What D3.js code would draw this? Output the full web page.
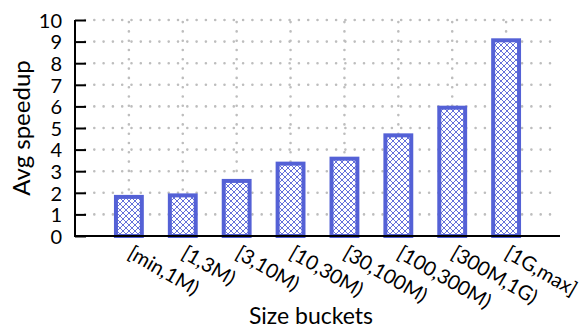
<!DOCTYPE html>
<html>
<head>
<meta charset="utf-8">
<script src="https://cdn.jsdelivr.net/npm/d3@7"></script>
<style>
  body { margin: 0; background: #fff; }
  text { font-family: Lato, "Open Sans", sans-serif; fill: #000; }
</style>
</head>
<body>
<div class="chart"></div>
<script>
(function () {

  // frame size
  var width = 585, height = 330;

  // data
  var buckets = ["[min,1M)", "[1,3M)", "[3,10M)", "[10,30M)", "[30,100M)", "[100,300M)", "[300M,1G)", "[1G,max]"];
  var speedups = [1.81, 1.88, 2.55, 3.35, 3.58, 4.66, 5.94, 9.06];
  var yTicks = [0, 1, 2, 3, 4, 5, 6, 7, 8, 9, 10];

  var barColor = "#5461d6";
  var gridColor = "#bdbdbd";

  var svg = d3.select(".chart")
    .append("svg")
    .attr("width", width)
    .attr("height", height);

  // crosshatch pattern for the bars
  var pat = svg.append("defs").append("pattern")
    .attr("id", "hatch")
    .attr("patternUnits", "userSpaceOnUse")
    .attr("width", 6)
    .attr("height", 6);
  pat.append("path")
    .attr("d", "M0,0L6,6M6,0L0,6")
    .attr("stroke", barColor)
    .attr("stroke-width", 0.9)
    .attr("fill", "none");

  // scales - bars sit at 1..8 like a gnuplot histogram
  var x = d3.scaleLinear().domain([0, buckets.length + 1]).range([75, 560]);
  var y = d3.scaleLinear().domain([0, 10]).range([236, 20]);

  // dotted grid
  var grid = svg.append("g").attr("class", "grid");
  grid.selectAll(".hgrid")
    .data(yTicks.slice(1))
    .enter().append("line")
    .attr("x1", x(0) + 10).attr("x2", x(buckets.length + 1) - 4)
    .attr("y1", d => y(d)).attr("y2", d => y(d))
    .attr("stroke", gridColor)
    .attr("stroke-width", 2.6)
    .attr("stroke-linecap", "round")
    .attr("stroke-dasharray", "0,9.3");
  grid.selectAll(".vgrid")
    .data(buckets)
    .enter().append("line")
    .attr("x1", (d, i) => x(i + 1)).attr("x2", (d, i) => x(i + 1))
    .attr("y1", y(0)).attr("y2", y(10))
    .attr("stroke", gridColor)
    .attr("stroke-width", 2.6)
    .attr("stroke-linecap", "round")
    .attr("stroke-dasharray", "0,9.3");

  // bars
  var barW = x(0.48) - x(0);
  var bars = svg.append("g").attr("class", "bars")
    .selectAll("g")
    .data(speedups)
    .enter().append("g");
  bars.append("rect")
    .attr("x", (d, i) => x(i + 1) - barW / 2)
    .attr("y", d => y(d))
    .attr("width", barW)
    .attr("height", d => y(0) - y(d))
    .attr("fill", "#fff");
  bars.append("rect")
    .attr("x", (d, i) => x(i + 1) - barW / 2)
    .attr("y", d => y(d))
    .attr("width", barW)
    .attr("height", d => y(0) - y(d))
    .attr("fill", "url(#hatch)")
    .attr("stroke", barColor)
    .attr("stroke-width", 4);

  // axes
  var yAxis = d3.axisLeft(y).tickValues(yTicks).tickSize(-11).tickPadding(13);
  var gy = svg.append("g")
    .attr("transform", "translate(" + x(0) + ",0)")
    .call(yAxis);
  gy.select(".domain").remove();
  gy.selectAll("line").attr("stroke", "#000").attr("stroke-width", 2);
  gy.selectAll("text").style("font-size", "20px").attr("dy", "0.36em");
  svg.append("line")
    .attr("x1", x(0)).attr("x2", x(0))
    .attr("y1", y(0) + 1).attr("y2", y(10))
    .attr("stroke", "#000").attr("stroke-width", 2);
  svg.append("line")
    .attr("x1", x(0) - 1).attr("x2", x(buckets.length + 1))
    .attr("y1", y(0)).attr("y2", y(0))
    .attr("stroke", "#000").attr("stroke-width", 2);

  // rotated bucket labels
  svg.append("g").selectAll("text")
    .data(buckets)
    .enter().append("text")
    .attr("transform", (d, i) => "translate(" + (x(i + 1) + 5) + "," + (y(0) + 8) + ") rotate(30)")
    .attr("dy", "0.75em")
    .style("font-size", "20px")
    .text(d => d);

  // axis titles
  svg.append("text")
    .attr("transform", "translate(30,128) rotate(-90)")
    .attr("text-anchor", "middle")
    .style("font-size", "24px")
    .text("Avg speedup");
  svg.append("text")
    .attr("x", 311).attr("y", 324)
    .attr("text-anchor", "middle")
    .style("font-size", "23px")
    .text("Size buckets");

})();
</script>
</body>
</html>
